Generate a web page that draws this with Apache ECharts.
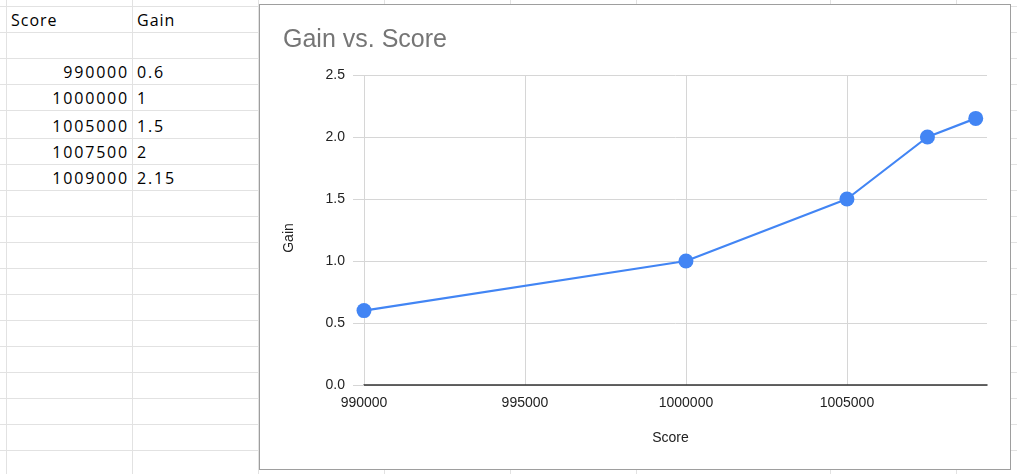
<!DOCTYPE html>
<html>
<head>
<meta charset="UTF-8">
<script type="text/javascript" src="https://cdn.jsdelivr.net/npm/echarts@6.0.0/dist/echarts.min.js"></script>
<title>Gain vs. Score</title>
<style>
	body { margin: 0; width: 1017px; height: 474px; overflow: hidden; background: #fff; position: relative; font-family: "Open Sans", sans-serif; }
	.gl { position: absolute; background: #e2e2e2; }
	.cell { position: absolute; height: 24px; line-height: 24px; font-size: 16px; color: #000; letter-spacing: 1px; white-space: nowrap; }
	.num { letter-spacing: 1.8px; }
	#main { position: absolute; left: 259px; top: 4px; width: 750px; height: 464px; border: 1px solid #9e9e9e; background: #fff; }
</style>
</head>
<script type="text/javascript">
	var headers = ["Score", "Gain"];
	var scores = [990000, 1000000, 1005000, 1007500, 1009000];
	var gains = [0.6, 1, 1.5, 2, 2.15];
	var scoreTicks = [990000, 995000, 1000000, 1005000];
	var gainTicks = ["0.0", "0.5", "1.0", "1.5", "2.0", "2.5"];

	// sheet grid lines (px)
	var colLines = [6, 132, 258, 384, 510, 636, 830, 956];
	var rowLines = [6, 32, 58, 84, 110, 138, 164, 190, 216, 242, 268, 294, 320, 346, 372, 398, 424, 450];

	var option;
	var myChart;

	window.onload = function(){
		drawSheet();
		initChart();
		myChart = echarts.init(document.getElementById('main'));
		myChart.setOption(option);
	};

	function addDiv(cls, css, text){
		var d = document.createElement('div');
		d.className = cls;
		d.style.cssText = css;
		if(text !== undefined) d.textContent = text;
		document.body.insertBefore(d, document.getElementById('main'));
	}

	function drawSheet(){
		for(var i in colLines){
			addDiv('gl', 'left:' + colLines[i] + 'px;top:0;width:1px;height:474px;');
		}
		for(var j in rowLines){
			addDiv('gl', 'left:0;top:' + rowLines[j] + 'px;width:1017px;height:1px;');
		}
		// header row
		addDiv('cell', 'left:11px;top:' + (rowLines[1] - 24) + 'px;', headers[0]);
		addDiv('cell', 'left:137px;top:' + (rowLines[1] - 24) + 'px;', headers[1]);
		for(var k = 0; k < scores.length; k++){
			var bottom = rowLines[k + 3];
			addDiv('cell num', 'left:6px;width:123px;text-align:right;top:' + (bottom - 24) + 'px;', String(scores[k]));
			addDiv('cell num', 'left:137px;top:' + (bottom - 24) + 'px;', String(gains[k]));
		}
	}

	function initChart(){
		var points = [];
		for(var i = 0; i < scores.length; i++){
			points.push([scores[i], gains[i]]);
		}
		var gridColor = '#d6d6d6';
		option = {
			animation: false,
			textStyle: { fontFamily: 'Liberation Sans, Arial, sans-serif' },
			title: {
				text: "Gain vs. Score",
				left: 18,
				top: 18,
				textStyle: { fontSize: 25, fontWeight: 'normal', color: '#757575', fontFamily: 'Liberation Sans, Arial, sans-serif' }
			},
			grid: { left: 104, top: 70, right: 23, bottom: 84 },
			xAxis: {
				type: 'value',
				min: scoreTicks[0],
				max: 1009350,
				interval: scoreTicks[1] - scoreTicks[0],
				name: 'Score',
				nameLocation: 'middle',
				nameGap: 46,
				nameTextStyle: { fontSize: 14, color: '#222', padding: [0, 10, 0, 0] },
				axisLine: { lineStyle: { color: '#333', width: 1.5 } },
				axisTick: { show: false },
				axisLabel: {
					fontSize: 14, color: '#222', margin: 11, showMaxLabel: false,
					formatter: function(v){ return scoreTicks.indexOf(v) >= 0 ? String(v) : ''; }
				},
				splitLine: { show: true, lineStyle: { color: [gridColor, gridColor, gridColor, gridColor, 'rgba(0,0,0,0)'], width: 1 } }
			},
			yAxis: {
				type: 'value',
				min: 0,
				max: 2.5,
				interval: 0.5,
				name: 'Gain',
				nameLocation: 'middle',
				nameGap: 68,
				nameTextStyle: { fontSize: 14, color: '#222', padding: [0, 16, 0, 0] },
				axisLine: { show: false },
				axisTick: { show: true, length: 11, lineStyle: { color: gridColor } },
				axisLabel: {
					fontSize: 14, color: '#222', margin: 19,
					formatter: function(v){ return gainTicks[Math.round(v / 0.5)]; }
				},
				splitLine: { lineStyle: { color: gridColor, width: 1 } }
			},
			series: [
				{
					name: 'Gain',
					type: 'line',
					data: points,
					symbol: 'circle',
					symbolSize: 15,
					itemStyle: { color: '#4285F4' },
					lineStyle: { color: '#4285F4', width: 2.2 }
				}
			]
		};
	}
</script>
<body>
	<div id="main"></div>
</body>
</html>
